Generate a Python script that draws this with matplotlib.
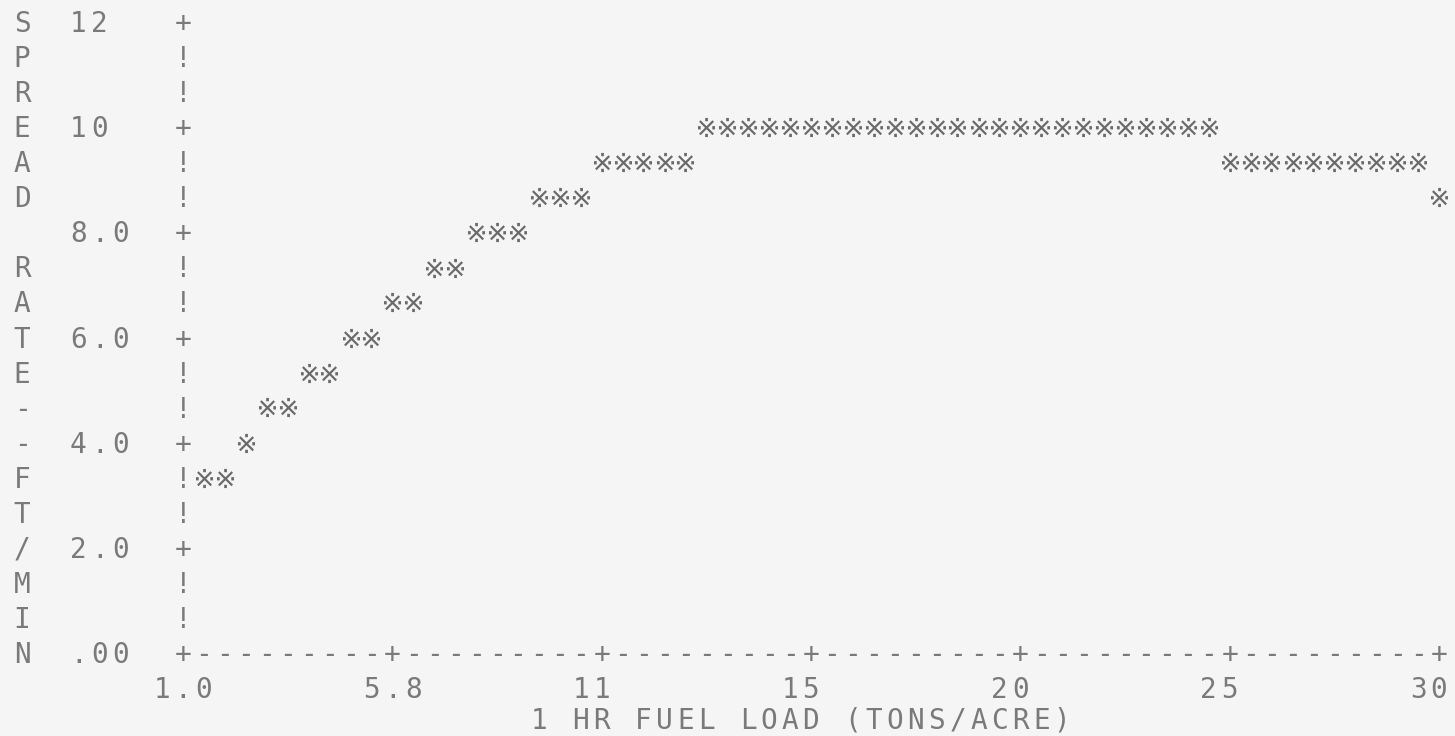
import matplotlib
matplotlib.use("Agg")
import matplotlib.pyplot as plt
import matplotlib.transforms as mtransforms

# ---------------- data ----------------
x_ticks = [1.0, 5.83, 10.67, 15.5, 20.33, 25.17, 30.0]
x_tick_labels = ["1.0", "5.8", "11", "15", "20", "25", "30"]
y_ticks = [0, 2, 4, 6, 8, 10, 12]
y_tick_labels = [".00", "2.0", "4.0", "6.0", "8.0", "10", "12"]
y_title = "SPREAD RATE--FT/MIN"
x_title = "1 HR FUEL LOAD (TONS/ACRE)"

fuel_load = [1.48, 1.97, 2.45, 2.93, 3.42, 3.90, 4.38, 4.87, 5.35, 5.83,
             6.32, 6.80, 7.28, 7.77, 8.25, 8.73, 9.22, 9.70, 10.18, 10.67,
             11.15, 11.63, 12.12, 12.60, 13.08, 13.57, 14.05, 14.53, 15.02, 15.50,
             15.98, 16.47, 16.95, 17.43, 17.92, 18.40, 18.88, 19.37, 19.85, 20.33,
             20.82, 21.30, 21.78, 22.27, 22.75, 23.23, 23.72, 24.20, 24.68, 25.17,
             25.65, 26.13, 26.62, 27.10, 27.58, 28.07, 28.55, 29.03, 29.52, 30.00]
spread_rate = [3.33, 3.33, 4.00, 4.67, 4.67, 5.33, 5.33, 6.00, 6.00, 6.67,
               6.67, 7.33, 7.33, 8.00, 8.00, 8.00, 8.67, 8.67, 8.67, 9.33,
               9.33, 9.33, 9.33, 9.33, 10.0, 10.0, 10.0, 10.0, 10.0, 10.0,
               10.0, 10.0, 10.0, 10.0, 10.0, 10.0, 10.0, 10.0, 10.0, 10.0,
               10.0, 10.0, 10.0, 10.0, 10.0, 10.0, 10.0, 10.0, 10.0, 9.33,
               9.33, 9.33, 9.33, 9.33, 9.33, 9.33, 9.33, 9.33, 9.33, 8.67]

# ---------------- layout / style ----------------
W, H = 1455, 736
BG = "#f6f5f5"
INK = "#7a7a7a"
FS = 20
FONT = "DejaVu Sans Mono"
XMIN, XMAX, YMIN, YMAX = 1.0, 30.0, 0.0, 12.0
NCOL, NROW = 60, 18
DX = (XMAX - XMIN) / NCOL     # one printer column in data units
DY = (YMAX - YMIN) / NROW     # one printer row in data units

fig = plt.figure(figsize=(W / 100, H / 100), dpi=100, facecolor=BG)
ax = fig.add_axes([183 / W, 83 / H, 1256 / W, 631 / H])
ax.set_facecolor(BG)
ax.set_xlim(XMIN, XMAX)
ax.set_ylim(YMIN, YMAX)
ax.axis("off")

# baseline shift so glyphs are vertically centred on the printer row
tr = mtransforms.offset_copy(ax.transData, fig=fig, y=-0.36 * FS, units="points")


def put(x, y, s, **kw):
    ax.text(x, y, s, transform=tr, ha="center", va="baseline",
            fontsize=FS, family=FONT, color=INK, clip_on=False, **kw)


# y axis: '+' at ticks, '!' between
for r in range(NROW + 1):
    yv = YMIN + r * DY
    is_tick = any(abs(yv - t) < 1e-6 for t in y_ticks)
    put(XMIN, yv, "+" if is_tick else "!")

# x axis: '+' at ticks, '-' between
tick_cols = [round((t - XMIN) / DX) for t in x_ticks]
for c in range(1, NCOL + 1):
    put(XMIN + c * DX, YMIN, "+" if c in tick_cols else "-")

# y tick labels (left-aligned in printer columns)
for t, lab in zip(y_ticks, y_tick_labels):
    for i, ch in enumerate(lab):
        put(XMIN + (-5 + i) * DX, t, ch)

# x tick labels (second character under the tick)
for t, lab in zip(x_ticks, x_tick_labels):
    c0 = round((t - XMIN) / DX) - 1
    for i, ch in enumerate(lab):
        put(XMIN + (c0 + i) * DX, YMIN - DY, ch)

# x title (nudged up slightly so it stays inside the image)
for i, ch in enumerate(x_title):
    put(XMIN + (17 + i) * DX, YMIN - 1.88 * DY, ch)

# y title, written vertically one letter per row
for i, ch in enumerate(y_title):
    put(XMIN - 7.69 * DX, YMAX - i * DY, ch)

# data marks
ax.scatter(fuel_load, spread_rate, marker="$\u203b$", s=190, c="#6a6a6a",
           linewidths=0, clip_on=False, zorder=3)

fig.savefig("out.png", dpi=100, facecolor=BG)
